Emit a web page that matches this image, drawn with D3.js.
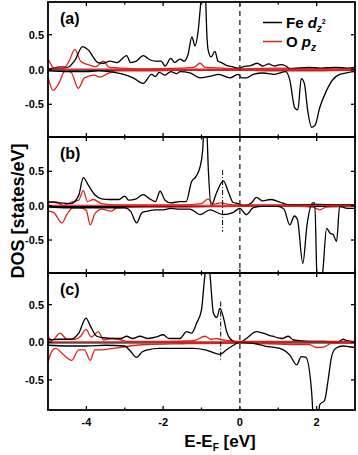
<!DOCTYPE html>
<html>
<head>
<meta charset="utf-8">
<script src="https://cdn.jsdelivr.net/npm/d3@7"></script>
<style>
  html, body { margin: 0; padding: 0; background: #fff; }
  svg { display: block; font-family: Arial, "Liberation Sans", sans-serif; }
</style>
</head>
<body>
<svg id="dos" width="358" height="455"></svg>
<script>
// energy (eV) vs DOS (states/eV)
const feUpA = [[-5,0.01],[-4.8,0.02],[-4.6,0.02],[-4.45,0.04],[-4.3,0.13],[-4.1,0.33],[-3.95,0.28],[-3.7,0.1],[-3.55,0.09],[-3.39,0.12],[-3.2,0.1],[-2.95,0.2],[-2.85,0.1],[-2.7,0.12],[-2.52,0.2],[-2.35,0.14],[-2.2,0.12],[-2.05,0.12],[-1.95,0.05],[-1.8,0.16],[-1.7,0.1],[-1.56,0.15],[-1.45,0.12],[-1.35,0.22],[-1.25,0.47],[-1.17,0.34],[-1.09,0.54],[-1.02,0.95],[-0.96,1.25],[-0.9,1.1],[-0.86,0.5],[-0.83,0.29],[-0.75,0.18],[-0.65,0.26],[-0.57,0.12],[-0.48,0.1],[-0.35,0.06],[-0.2,0.04],[-0.05,0.02],[0.1,0.04],[0.3,0.06],[0.45,0.09],[0.6,0.05],[0.75,0.08],[0.9,0.05],[1.05,0.07],[1.2,0.05],[1.3,0.01],[1.5,0.02],[1.8,0.03],[2.1,0.02],[2.5,0.03],[2.8,0.02],[3,0.03]];
const feDnA = [[-5,-0.02],[-4.5,-0.03],[-4,-0.03],[-3.7,-0.02],[-3.4,-0.03],[-3.1,-0.06],[-2.78,-0.12],[-2.52,-0.2],[-2.3,-0.07],[-2.2,-0.1],[-2.1,-0.04],[-1.95,-0.08],[-1.8,-0.03],[-1.65,-0.06],[-1.56,-0.03],[-1.3,-0.05],[-1.04,-0.12],[-0.8,-0.1],[-0.55,-0.07],[-0.26,-0.12],[-0.05,-0.07],[0.05,-0.12],[0.17,-0.12],[0.35,-0.07],[0.6,-0.05],[0.9,-0.07],[1.2,-0.03],[1.3,-0.15],[1.43,-0.55],[1.51,-0.58],[1.6,-0.13],[1.68,-0.2],[1.77,-0.6],[1.87,-0.83],[1.96,-0.8],[2.08,-0.55],[2.26,-0.3],[2.43,-0.14],[2.6,-0.07],[2.78,-0.05],[2.95,-0.03],[3,-0.04]];
const oUpA = [[-5,0.15],[-4.93,0.08],[-4.85,0.02],[-4.7,0.04],[-4.55,0.04],[-4.45,0.12],[-4.3,0.29],[-4.15,0.12],[-3.95,0.07],[-3.75,0.04],[-3.56,0.12],[-3.4,0.03],[-3.1,0.02],[-2.5,0.01],[-1.5,0.02],[-1.2,0.03],[-1.04,0.09],[-0.9,0.03],[-0.5,0.02],[0,0.01],[1,0.02],[2,0.01],[3,0.01]];
const oDnA = [[-5,-0.1],[-4.87,-0.3],[-4.74,-0.22],[-4.55,-0.02],[-4.4,-0.04],[-4.21,-0.27],[-4.05,-0.12],[-3.8,-0.08],[-3.64,-0.11],[-3.45,-0.06],[-3.2,-0.02],[-2.5,-0.02],[-1.5,-0.01],[0,-0.01],[1,-0.02],[2,-0.02],[3,-0.01]];

const feUpB = [[-5,0.06],[-4.7,0.04],[-4.4,0.03],[-4.2,0.15],[-4.08,0.41],[-3.95,0.3],[-3.78,0.16],[-3.6,0.1],[-3.4,0.09],[-3.15,0.09],[-3.0,0.14],[-2.9,0.08],[-2.7,0.1],[-2.52,0.16],[-2.35,0.1],[-2.2,0.06],[-2.08,0.21],[-1.95,0.08],[-1.8,0.04],[-1.56,0.06],[-1.4,0.06],[-1.26,0.35],[-1.15,0.42],[-1.04,0.56],[-0.97,0.8],[-0.93,1.15],[-0.87,1.15],[-0.82,0.5],[-0.75,0.0],[-0.6,0.2],[-0.43,0.36],[-0.3,0.2],[-0.18,0.05],[-0.05,0.03],[0.1,0.0],[0.3,0.04],[0.43,0.12],[0.6,0.07],[0.8,0.09],[1.0,0.06],[1.1,0.04],[1.3,0.01],[1.6,0.01],[2.0,0.02],[2.5,0.01],[3,0.01]];
const feDnB = [[-5,-0.02],[-4.5,-0.03],[-4,-0.03],[-3.5,-0.03],[-3.0,-0.03],[-2.85,-0.08],[-2.69,-0.25],[-2.55,-0.1],[-2.4,-0.08],[-2.2,-0.06],[-2.0,-0.06],[-1.8,-0.04],[-1.56,-0.05],[-1.3,-0.05],[-1.04,-0.13],[-0.78,-0.06],[-0.44,-0.13],[-0.18,-0.1],[0,-0.04],[0.17,-0.13],[0.35,-0.03],[0.6,-0.01],[1.0,-0.01],[1.15,-0.05],[1.3,-0.28],[1.42,-0.15],[1.5,-0.2],[1.64,-0.84],[1.75,-0.28],[1.9,0.04],[1.95,0.04],[2.02,-1.2],[2.12,-1.2],[2.17,-0.9],[2.26,-0.33],[2.35,-0.4],[2.43,-0.42],[2.52,-0.52],[2.6,-0.01],[2.8,-0.04],[3,-0.04]];
const oUpB = [[-5,0.04],[-4.8,0.06],[-4.6,0.0],[-4.4,0.05],[-4.2,0.08],[-4.08,0.22],[-3.97,0.06],[-3.82,0.09],[-3.6,0.03],[-3.2,0.01],[-2.5,0.01],[-1.5,0.01],[-1.0,0.03],[-0.83,0.1],[-0.7,0.02],[-0.5,0.04],[-0.3,0.02],[0,0.01],[1,0.01],[2,0.01],[3,0.01]];
const oDnB = [[-5,-0.08],[-4.85,-0.1],[-4.64,-0.25],[-4.5,-0.12],[-4.35,-0.03],[-4.15,-0.03],[-4.0,-0.07],[-3.9,-0.28],[-3.78,-0.12],[-3.6,-0.05],[-3.36,-0.08],[-3.2,-0.03],[-2.5,-0.02],[-1.5,-0.02],[0,-0.01],[1.5,-0.01],[1.9,-0.02],[2.08,-0.06],[2.25,-0.02],[3,-0.01]];

const feUpC = [[-5,0.03],[-4.7,0.04],[-4.4,0.04],[-4.2,0.12],[-4.01,0.32],[-3.9,0.22],[-3.73,0.08],[-3.55,0.06],[-3.3,0.05],[-3.1,0.05],[-2.95,0.08],[-2.8,0.05],[-2.6,0.08],[-2.4,0.05],[-2.17,0.07],[-2.0,0.1],[-1.85,0.05],[-1.56,0.05],[-1.39,0.14],[-1.26,0.12],[-1.13,0.25],[-1.0,0.43],[-0.92,0.85],[-0.85,1.1],[-0.78,0.9],[-0.69,0.39],[-0.6,0.33],[-0.52,0.45],[-0.43,0.33],[-0.35,0.15],[-0.26,0.05],[-0.09,0.0],[0,0.0],[0.17,0.05],[0.43,0.14],[0.6,0.12],[0.85,0.08],[1.1,0.05],[1.26,0.08],[1.4,0.03],[1.8,0.01],[2.2,0.01],[2.55,0.0],[2.69,0.04],[2.8,0.02],[3,0.0]];
const feDnC = [[-5,-0.04],[-4.5,-0.05],[-4,-0.05],[-3.5,-0.04],[-3.0,-0.05],[-2.85,-0.12],[-2.69,-0.2],[-2.55,-0.13],[-2.4,-0.1],[-2.1,-0.08],[-1.6,-0.08],[-1.21,-0.08],[-0.9,-0.1],[-0.52,-0.16],[-0.35,-0.1],[-0.1,-0.02],[0,0.0],[0.3,-0.01],[0.65,-0.05],[1.04,-0.08],[1.3,-0.17],[1.48,-0.3],[1.6,-0.19],[1.72,-0.2],[1.87,-0.66],[1.93,-1.1],[2.03,-1.1],[2.08,-0.83],[2.21,-0.77],[2.3,-0.5],[2.39,-0.19],[2.5,-0.08],[2.69,-0.05],[2.85,-0.06],[3,-0.07]];
const oUpC = [[-5,0.07],[-4.88,0.03],[-4.69,0.12],[-4.5,0.04],[-4.3,0.04],[-4.15,0.08],[-4.01,0.17],[-3.87,0.07],[-3.69,0.14],[-3.55,0.03],[-3.3,0.05],[-3.1,0.03],[-2.9,0.01],[-2.0,0.01],[-1.2,0.02],[-0.91,0.08],[-0.75,0.04],[-0.6,0.05],[-0.45,0.03],[-0.3,0.02],[0,0.01],[1,0.01],[2,0.01],[3,0.01]];
const oDnC = [[-5,-0.26],[-4.9,-0.12],[-4.8,-0.08],[-4.65,-0.14],[-4.38,-0.24],[-4.2,-0.1],[-4.05,-0.1],[-3.9,-0.24],[-3.78,-0.1],[-3.6,-0.1],[-3.3,-0.08],[-3.0,-0.06],[-2.7,-0.04],[-2.4,-0.03],[-1.5,-0.02],[0,-0.01],[1.5,-0.03],[1.8,-0.03],[2.0,-0.07],[2.2,-0.06],[2.4,-0.01],[3,-0.01]];

const panelLabels = ["(a)", "(b)", "(c)"];
const yDomains = [[-0.97, 0.97], [-0.98, 1.0], [-0.9, 0.92]];
const xTicks = [-4, -2, 0, 2];
const xMinorTicks = [-5, -3, -1, 1, 3];
const yTicks = [-0.5, 0.0, 0.5];
// dash-dot guides: [panel, energy, top, bottom]
const guideLines = [[1, -0.45, 0.52, -0.38], [2, -0.5, 0.54, -0.26]];
const fermiLevel = 0;

const panels = [
    { fe: [feUpA, feDnA], o: [oUpA, oDnA] },
    { fe: [feUpB, feDnB], o: [oUpB, oDnB] },
    { fe: [feUpC, feDnC], o: [oUpC, oDnC] }
];

const svg = d3.select("#dos");
const left = 48, right = 355;
const panelEdges = [2, 137, 273, 410];
const red = "#e3211c";

const x = d3.scaleLinear().domain([-5, 3]).range([left, right]);
const fmt = d => d3.format(".1f")(d).replace("\u2212", "-");

const defs = svg.append("defs");

panels.forEach((p, i) => {
    const top = panelEdges[i], bottom = panelEdges[i + 1];
    const y = d3.scaleLinear().domain(yDomains[i]).range([bottom, top]);

    defs.append("clipPath").attr("id", "clip" + i)
        .append("rect")
        .attr("x", left).attr("y", top)
        .attr("width", right - left).attr("height", bottom - top);

    const g = svg.append("g").attr("clip-path", `url(#clip${i})`);
    const line = d3.line().x(d => x(d[0])).y(d => y(d[1])).curve(d3.curveMonotoneX);

    // zero baselines
    g.append("line")
        .attr("x1", left).attr("x2", right)
        .attr("y1", y(0) + 0.6).attr("y2", y(0) + 0.6)
        .attr("stroke", "#000").attr("stroke-width", 1.3);

    p.o.forEach(s => {
        g.append("path").datum(s)
            .attr("fill", "none").attr("stroke", red)
            .attr("stroke-width", 1.3).attr("d", line);
    });
    p.fe.forEach(s => {
        g.append("path").datum(s)
            .attr("fill", "none").attr("stroke", "#000")
            .attr("stroke-width", 1.3).attr("d", line);
    });

    g.append("line")
        .attr("x1", left).attr("x2", right)
        .attr("y1", y(0) - 0.4).attr("y2", y(0) - 0.4)
        .attr("stroke", red).attr("stroke-width", 1.1);

    guideLines.filter(gl => gl[0] === i).forEach(gl => {
        svg.append("line")
            .attr("x1", x(gl[1])).attr("x2", x(gl[1]))
            .attr("y1", y(gl[2])).attr("y2", y(gl[3]))
            .attr("stroke", "#000").attr("stroke-width", 1)
            .attr("stroke-dasharray", "5,2,1,2");
    });

    // ticks, inward on all four sides
    const tk = svg.append("g").attr("stroke", "#000").attr("stroke-width", 1.3);
    xTicks.forEach(t => {
        tk.append("line").attr("x1", x(t)).attr("x2", x(t)).attr("y1", bottom).attr("y2", bottom - 4);
        tk.append("line").attr("x1", x(t)).attr("x2", x(t)).attr("y1", top).attr("y2", top + 4);
    });
    xMinorTicks.forEach(t => {
        tk.append("line").attr("x1", x(t)).attr("x2", x(t)).attr("y1", bottom).attr("y2", bottom - 2.5);
        tk.append("line").attr("x1", x(t)).attr("x2", x(t)).attr("y1", top).attr("y2", top + 2.5);
    });
    yTicks.forEach(t => {
        tk.append("line").attr("x1", left).attr("x2", left + 4).attr("y1", y(t)).attr("y2", y(t));
        tk.append("line").attr("x1", right).attr("x2", right - 4).attr("y1", y(t)).attr("y2", y(t));
    });

    svg.append("g").selectAll("text").data(yTicks).join("text")
        .attr("x", left - 4).attr("y", d => y(d) + 4)
        .attr("text-anchor", "end")
        .style("font-size", "11px").style("font-weight", "bold")
        .text(fmt);

    svg.append("text")
        .attr("x", left + 12).attr("y", top + 22)
        .style("font-size", "16px").style("font-weight", "bold")
        .text(panelLabels[i]);

    svg.append("rect")
        .attr("x", left).attr("y", top)
        .attr("width", right - left).attr("height", bottom - top)
        .attr("fill", "none").attr("stroke", "#000").attr("stroke-width", 1.8);
});

// Fermi level
svg.append("line")
    .attr("x1", x(fermiLevel)).attr("x2", x(fermiLevel))
    .attr("y1", panelEdges[0]).attr("y2", panelEdges[3])
    .attr("stroke", "#333").attr("stroke-width", 1.4)
    .attr("stroke-dasharray", "5,4");

// x tick labels
svg.append("g").selectAll("text").data(xTicks).join("text")
    .attr("x", d => x(d)).attr("y", panelEdges[3] + 16)
    .attr("text-anchor", "middle")
    .style("font-size", "11px").style("font-weight", "bold")
    .text(d => String(d));

// axis titles
const xTitle = svg.append("text")
    .attr("x", 220).attr("y", 447)
    .attr("text-anchor", "middle")
    .style("font-size", "17px").style("font-weight", "bold");
xTitle.append("tspan").text("E-E");
xTitle.append("tspan").attr("dy", 4).style("font-size", "10px").text("F");
xTitle.append("tspan").attr("dy", -4).text(" [eV]");

svg.append("text")
    .attr("transform", "translate(24,211) rotate(-90)")
    .attr("text-anchor", "middle")
    .style("font-size", "18px").style("font-weight", "bold")
    .text("DOS [states/eV]");

// legend
const lg = svg.append("g");
lg.append("line").attr("x1", 263).attr("x2", 282).attr("y1", 22.5).attr("y2", 22.5)
    .attr("stroke", "#000").attr("stroke-width", 1.5);
lg.append("line").attr("x1", 263).attr("x2", 282).attr("y1", 41.5).attr("y2", 41.5)
    .attr("stroke", red).attr("stroke-width", 1.5);

const t1 = lg.append("text").attr("x", 286).attr("y", 28.3)
    .style("font-size", "15px").style("font-weight", "bold");
t1.append("tspan").text("Fe ");
t1.append("tspan").style("font-style", "italic").text("d");
t1.append("tspan").attr("dy", 4).style("font-size", "10px").style("font-style", "italic").text("z");
t1.append("tspan").attr("dy", -8).style("font-size", "7px").text("2");

const t2 = lg.append("text").attr("x", 286).attr("y", 47)
    .style("font-size", "15px").style("font-weight", "bold");
t2.append("tspan").text("O ");
t2.append("tspan").style("font-style", "italic").text("p");
t2.append("tspan").attr("dy", 4).style("font-size", "10px").style("font-style", "italic").text("z");
</script>
</body>
</html>
